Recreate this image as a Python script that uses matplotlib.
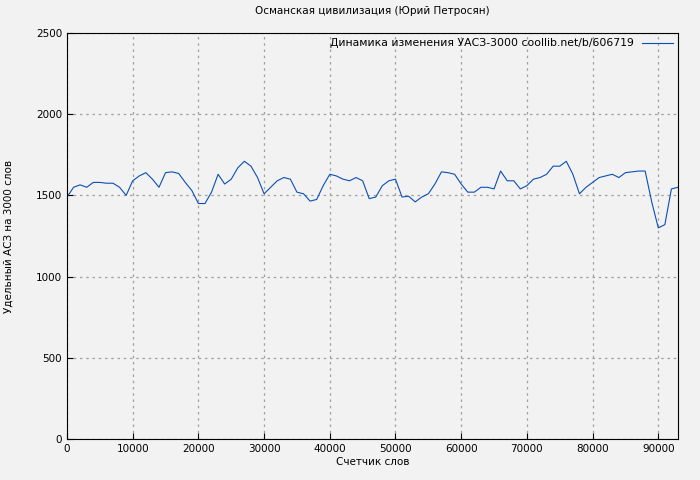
import matplotlib.pyplot as plt

words = list(range(0, 94000, 1000))
values = [1490, 1550, 1565, 1550, 1580, 1580, 1575, 1575, 1550, 1500,
          1590, 1620, 1640, 1600, 1550, 1640, 1645, 1635, 1580, 1530,
          1450, 1450, 1520, 1630, 1570, 1600, 1670, 1710, 1680, 1610,
          1510, 1550, 1590, 1610, 1600, 1520, 1510, 1465, 1475, 1560,
          1630, 1620, 1600, 1590, 1610, 1590, 1480, 1490, 1560, 1590,
          1600, 1490, 1495, 1460, 1490, 1510, 1570, 1645, 1640, 1630,
          1570, 1520, 1520, 1550, 1550, 1540, 1650, 1590, 1590, 1540,
          1560, 1600, 1610, 1630, 1680, 1680, 1710, 1630, 1510, 1550,
          1580, 1610, 1620, 1630, 1610, 1640, 1645, 1650, 1650, 1460,
          1300, 1320, 1540, 1550]

bg = '#f2f2f2'
fig = plt.figure(figsize=(7, 4.8), dpi=100, facecolor=bg)
ax = fig.add_axes([67/700, 41/480, 611/700, 406/480], facecolor=bg)
ax.plot(words, values, color='#0b4fb5', linewidth=0.8,
        label='Динамика изменения УАСЗ-3000 coollib.net/b/606719')
ax.set_xlim(0, 93000)
ax.set_ylim(0, 2500)
ax.set_xticks(range(0, 93000, 10000))
ax.set_yticks(range(0, 2501, 500))
ax.grid(True, color='#a0a0a0', linestyle=(0, (2, 3)), linewidth=0.9)
ax.tick_params(labelsize=7.5, direction='in', length=4)
ax.set_xlabel('Счетчик слов', fontsize=7.5, labelpad=2)
ax.set_ylabel('Удельный АСЗ на 3000 слов', fontsize=7.5, labelpad=16)
ax.set_title('Османская цивилизация (Юрий Петросян)', fontsize=7.5, pad=14)
ax.legend(loc='upper right', frameon=False, fontsize=7.8, handlelength=2.8,
          borderaxespad=0.1, markerfirst=False)
fig.savefig('out.png', facecolor=bg)
